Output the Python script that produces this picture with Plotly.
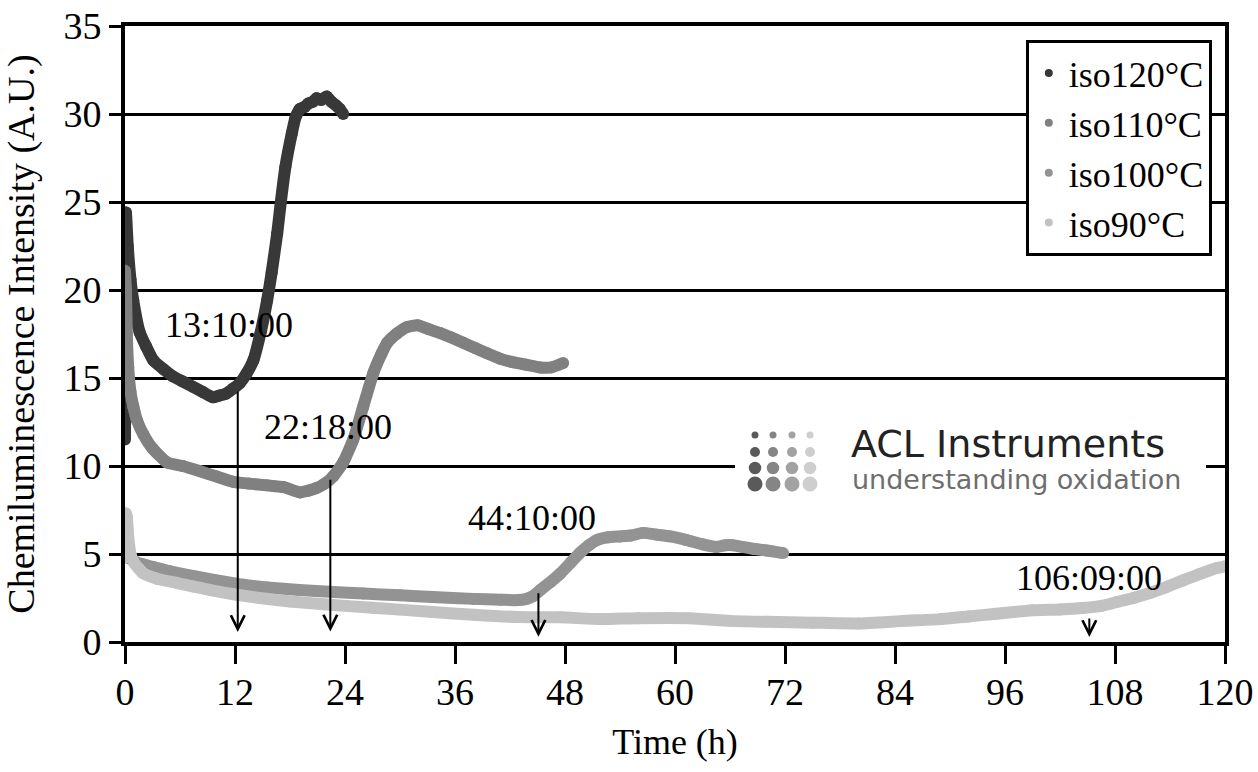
import plotly.graph_objects as go

# ---------------- data ----------------
t120 = [0, 0.03, 0.1, 0.3, 0.6, 0.9, 1.6, 2.3, 3.1, 4.2, 5.2, 6.3, 7.4, 8.5, 9.6, 10.3, 11.0, 11.8,
        12.5, 13.2, 14.0, 14.8, 15.5, 16.0, 16.6, 17.0, 17.5, 18.2, 18.6, 19.1, 19.6, 20.0, 20.5,
        20.9, 21.4, 22.0, 22.5, 23.0, 23.4, 23.8]
v120 = [11.5, 18.0, 24.4, 22.5, 20.6, 19.4, 17.6, 16.8, 16.0, 15.5, 15.1, 14.8, 14.5, 14.2, 13.9, 14.0,
        14.1, 14.4, 14.7, 15.2, 16.0, 17.6, 19.4, 21.0, 23.2, 25.0, 27.0, 28.9, 29.8, 30.3, 30.4,
        30.6, 30.7, 30.9, 30.8, 31.0, 30.7, 30.5, 30.3, 30.0]

t110 = [0, 0.1, 0.2, 0.35, 0.6, 0.9, 1.3, 2.0, 3.0, 4.6, 6.3, 8.2, 10.0, 11.8, 13.5, 15.5, 17.3, 19.1,
        20.0, 20.9, 21.8, 22.7, 23.8, 24.9, 26.0, 27.1, 28.0, 28.6, 29.6, 30.8, 31.9, 33.0, 34.4,
        35.6, 36.9, 38.2, 39.5, 40.9, 42.3, 43.8, 45.3, 46.5, 47.8]
v110 = [21.1, 20.0, 17.5, 15.6, 14.2, 13.4, 12.6, 11.8, 11.0, 10.2, 10.0, 9.7, 9.4, 9.1, 9.0, 8.9, 8.8,
        8.5, 8.6, 8.75, 9.0, 9.4, 10.2, 11.5, 13.4, 15.3, 16.4, 17.0, 17.5, 17.9, 18.0, 17.8, 17.55,
        17.3, 17.0, 16.7, 16.4, 16.1, 15.9, 15.75, 15.6, 15.6, 15.85]

t100 = [0, 0.2, 0.5, 1.0, 2.0, 3.1, 5.0, 7.4, 10.0, 12.9, 15.5, 19.0, 22.7, 26.0, 30.0, 33.6, 38.0,
        41.0, 42.8, 43.8, 44.5, 45.3, 46.4, 47.5, 48.6, 49.6, 50.6, 51.5, 52.7, 54.0, 55.2, 56.5,
        58.0, 59.5, 61.2, 63.0, 64.5, 65.5, 66.3, 67.4, 68.5, 70.0, 71.8]
v100 = [5.2, 4.9, 4.75, 4.6, 4.4, 4.26, 4.0, 3.75, 3.5, 3.25, 3.1, 2.95, 2.84, 2.75, 2.65, 2.56, 2.45,
        2.4, 2.38, 2.45, 2.6, 2.95, 3.4, 3.9, 4.5, 5.05, 5.5, 5.8, 5.95, 6.0, 6.05, 6.2, 6.1, 6.0,
        5.8, 5.55, 5.4, 5.5, 5.5, 5.4, 5.3, 5.2, 5.05]

t90 = [0, 0.1, 0.2, 0.35, 0.6, 1.0, 2.0, 3.5, 5.7, 7.5, 9.3, 12.0, 14.7, 18.0, 22.7, 27.0, 33.6,
       38.0, 42.8, 47.5, 51.8, 56.0, 61.6, 66.0, 70.0, 75.0, 80.0, 85.0, 89.0, 92.0, 95.0, 99.0,
       102.0, 104.5, 106.5, 108.2, 110.0, 111.8, 113.5, 115.4, 117.2, 119.1, 120.0]
v90 = [4.8, 7.3, 7.1, 6.0, 5.0, 4.5, 3.9, 3.6, 3.35, 3.15, 2.95, 2.7, 2.5, 2.3, 2.1, 1.95, 1.7,
       1.55, 1.42, 1.4, 1.3, 1.35, 1.35, 1.2, 1.15, 1.1, 1.05, 1.2, 1.3, 1.45, 1.6, 1.8, 1.85,
       1.93, 2.05, 2.27, 2.5, 2.78, 3.1, 3.5, 3.85, 4.2, 4.3]

series_names = ["iso120°C", "iso110°C", "iso100°C", "iso90°C"]
series_t = [t120, t110, t100, t90]
series_v = [v120, v110, v100, v90]
series_colors = ["#383838", "#808080", "#939393", "#c2c2c2"]

# onset annotations
onset_labels = ["13:10:00", "22:18:00", "44:10:00", "106:09:00"]
label_x = [11.35, 22.15, 44.4, 105.15]
label_y = [18.0, 12.2, 7.07, 3.66]
arrow_x = [12.3, 22.4, 45.1, 105.2]
arrow_tail = [14.3, 9.3, 2.85, 1.42]
arrow_tip = [0.57, 0.6, 0.3, 0.28]

x_ticks = [0, 12, 24, 36, 48, 60, 72, 84, 96, 108, 120]
y_ticks = [0, 5, 10, 15, 20, 25, 30, 35]

SERIF = "Liberation Serif, Times New Roman, serif"
LW = 12

fig = go.Figure()
for name, t, v, c in zip(series_names, series_t, series_v, series_colors):
    fig.add_trace(go.Scatter(x=t, y=v, mode="lines+markers",
                             line=dict(color=c, width=LW, shape="spline", smoothing=0.5),
                             marker=dict(color=c, size=LW, line=dict(width=0)),
                             showlegend=False, hoverinfo="skip"))
for name, c in zip(series_names, series_colors):
    fig.add_trace(go.Scatter(x=[None], y=[None], mode="markers", name=name,
                             marker=dict(color=c, size=8)))

annotations = []
for lab, lx, ly in zip(onset_labels, label_x, label_y):
    annotations.append(dict(x=lx, y=ly, xref="x", yref="y", text=lab, showarrow=False,
                            font=dict(family=SERIF, size=36, color="black"),
                            xanchor="center", yanchor="middle"))
for ax_, tail, tip in zip(arrow_x, arrow_tail, arrow_tip):
    annotations.append(dict(x=ax_, y=tip, ax=ax_, ay=tail, xref="x", yref="y",
                            axref="x", ayref="y", text="", showarrow=True,
                            arrowhead=5, arrowsize=1.35, arrowwidth=2, arrowcolor="black",
                            standoff=0, startstandoff=0))

# ---- logo (paper coordinates; plot area is 1100 x 616 px, at x 125, y 26) ----
PW, PH = 1100.0, 616.0
def px2paper(px, py):
    return (px - 125) / PW, (642 - py) / PH

shapes = []
lx0, ly0 = px2paper(735, 424)
lx1, ly1 = px2paper(1206, 506)
shapes.append(dict(type="rect", xref="paper", yref="paper", x0=lx0, x1=lx1, y0=ly1, y1=ly0,
                   fillcolor="white", line=dict(width=0), layer="above"))
dot_cols_px = [755, 773, 792, 810]
dot_rows_py = [435, 452, 468, 484]
dot_diam = [7, 10, 12.5, 15]
dot_colors = ["#5a5a5a", "#858585", "#a2a2a2", "#cecece"]
for r, (py, d) in enumerate(zip(dot_rows_py, dot_diam)):
    for c, (px, col) in enumerate(zip(dot_cols_px, dot_colors)):
        ax_p, ay_p = px2paper(px, py)
        shapes.append(dict(type="circle", xref="paper", yref="paper",
                           xsizemode="pixel", ysizemode="pixel", xanchor=ax_p, yanchor=ay_p,
                           x0=-d / 2, x1=d / 2, y0=-d / 2, y1=d / 2,
                           fillcolor=col, line=dict(width=0), layer="above"))
tx, ty = px2paper(849, 444)
annotations.append(dict(x=tx, y=ty, xref="paper", yref="paper", text="ACL Instruments",
                        showarrow=False, xanchor="left", yanchor="middle",
                        font=dict(family="DejaVu Sans", size=38, color="#222222")))
tx, ty = px2paper(850, 479)
annotations.append(dict(x=tx, y=ty, xref="paper", yref="paper", text="understanding oxidation",
                        showarrow=False, xanchor="left", yanchor="middle",
                        font=dict(family="DejaVu Sans", size=27, color="#6e6e6e")))

fig.update_layout(
    width=1258, height=772,
    margin=dict(l=125, r=33, t=26, b=130, autoexpand=False),
    paper_bgcolor="white", plot_bgcolor="white",
    font=dict(family=SERIF, color="black", size=36),
    showlegend=True,
    legend=dict(x=0.988, y=0.977, xanchor="right", yanchor="top",
                bgcolor="white", bordercolor="black", borderwidth=3,
                font=dict(family=SERIF, size=36, color="black"), tracegroupgap=0),
    annotations=annotations, shapes=shapes,
)
fig.update_xaxes(range=[0, 120], tickvals=x_ticks, ticktext=[str(v) for v in x_ticks],
                 automargin=False, ticklabelstandoff=-5,
                 showgrid=False, zeroline=False, showline=True, linecolor="black", linewidth=4,
                 mirror=True, ticks="outside", ticklen=18, tickwidth=3, tickcolor="black",
                 tickfont=dict(family=SERIF, size=38),
                 title=dict(text="Time (h)", font=dict(family=SERIF, size=36), standoff=18))
fig.update_yaxes(range=[0, 35], tickvals=y_ticks, ticktext=[str(v) for v in y_ticks],
                 automargin=False,
                 showgrid=True, gridcolor="black", gridwidth=3, zeroline=False,
                 showline=True, linecolor="black", linewidth=4, mirror=True,
                 ticks="outside", ticklen=12, tickwidth=3, tickcolor="black",
                 tickfont=dict(family=SERIF, size=38),
                 title=dict(text="Chemiluminescence Intensity (A.U.)",
                            font=dict(family=SERIF, size=38), standoff=24))

# remove the page's default 8px body margin so the figure fills the window exactly
fig.write_html("out.html", config={"displayModeBar": False},
               post_script="document.body.style.margin='0';document.body.style.padding='0';")
